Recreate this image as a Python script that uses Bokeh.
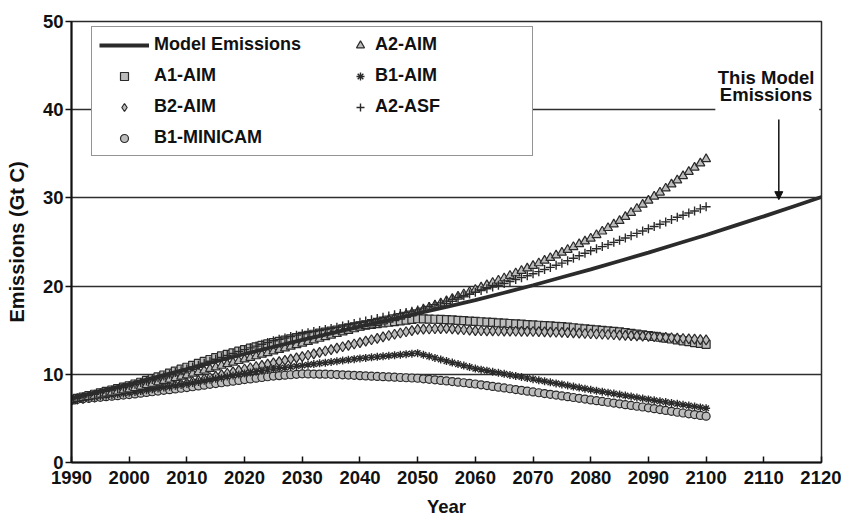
from bokeh.plotting import figure
from bokeh.models import (Range1d, Legend, LegendItem, Label, Arrow, NormalHead,
                          BoxAnnotation, FixedTicker)
from bokeh.embed import file_html
from bokeh.resources import INLINE

# ---------------- data ----------------
years = list(range(1990, 2101))
x_ticks = list(range(1990, 2121, 10))
y_ticks = [0, 10, 20, 30, 40, 50]

model_years = list(range(1990, 2121, 5))
model_emissions = [7.30, 8.10, 8.90, 9.75, 10.60, 11.45, 12.30, 13.10, 13.90, 14.65,
                   15.40, 16.15, 16.90, 17.65, 18.40, 19.25, 20.10, 21.00, 21.90,
                   22.85, 23.80, 24.80, 25.80, 26.85, 27.90, 29.00, 30.10]

a1_aim = [7.10, 7.26, 7.42, 7.58, 7.74, 7.90, 8.06, 8.22, 8.38, 8.54,
          8.70, 8.90, 9.10, 9.30, 9.50, 9.70, 9.92, 10.14, 10.36, 10.58,
          10.80, 11.02, 11.24, 11.46, 11.68, 11.90, 12.08, 12.26, 12.44, 12.62,
          12.80, 12.96, 13.12, 13.28, 13.44, 13.60, 13.74, 13.88, 14.02, 14.16,
          14.30, 14.42, 14.54, 14.66, 14.78, 14.90, 15.02, 15.14, 15.26, 15.38,
          15.50, 15.58, 15.66, 15.74, 15.82, 15.90, 15.98, 16.06, 16.14, 16.22,
          16.30, 16.28, 16.26, 16.24, 16.22, 16.20, 16.16, 16.12, 16.08, 16.04,
          16.00, 15.96, 15.92, 15.88, 15.84, 15.80, 15.76, 15.72, 15.68, 15.64,
          15.60, 15.56, 15.52, 15.48, 15.44, 15.40, 15.34, 15.28, 15.22, 15.16,
          15.10, 15.04, 14.98, 14.92, 14.86, 14.80, 14.72, 14.64, 14.56, 14.48,
          14.40, 14.30, 14.20, 14.10, 14.00, 13.90, 13.80, 13.70, 13.60, 13.50,
          13.40]

a2_aim = [7.10, 7.22, 7.34, 7.46, 7.58, 7.70, 7.82, 7.94, 8.06, 8.18,
          8.30, 8.46, 8.62, 8.78, 8.94, 9.10, 9.26, 9.42, 9.58, 9.74,
          9.90, 10.08, 10.26, 10.44, 10.62, 10.80, 10.98, 11.16, 11.34, 11.52,
          11.70, 11.88, 12.06, 12.24, 12.42, 12.60, 12.78, 12.96, 13.14, 13.32,
          13.50, 13.68, 13.86, 14.04, 14.22, 14.40, 14.58, 14.76, 14.94, 15.12,
          15.30, 15.48, 15.66, 15.84, 16.02, 16.20, 16.38, 16.56, 16.74, 16.92,
          17.10, 17.34, 17.58, 17.82, 18.06, 18.30, 18.56, 18.82, 19.08, 19.34,
          19.60, 19.86, 20.12, 20.38, 20.64, 20.90, 21.18, 21.46, 21.74, 22.02,
          22.30, 22.60, 22.90, 23.20, 23.50, 23.80, 24.12, 24.44, 24.76, 25.08,
          25.40, 25.80, 26.20, 26.60, 27.00, 27.40, 27.86, 28.32, 28.78, 29.24,
          29.70, 30.16, 30.62, 31.08, 31.54, 32.00, 32.48, 32.96, 33.44, 33.92,
          34.40]

a2_asf = [7.10, 7.26, 7.42, 7.58, 7.74, 7.90, 8.06, 8.22, 8.38, 8.54,
          8.70, 8.88, 9.06, 9.24, 9.42, 9.60, 9.80, 10.00, 10.20, 10.40,
          10.60, 10.82, 11.04, 11.26, 11.48, 11.70, 11.92, 12.14, 12.36, 12.58,
          12.80, 13.00, 13.20, 13.40, 13.60, 13.80, 13.96, 14.12, 14.28, 14.44,
          14.60, 14.72, 14.84, 14.96, 15.08, 15.20, 15.34, 15.48, 15.62, 15.76,
          15.90, 16.04, 16.18, 16.32, 16.46, 16.60, 16.74, 16.88, 17.02, 17.16,
          17.30, 17.50, 17.70, 17.90, 18.10, 18.30, 18.50, 18.70, 18.90, 19.10,
          19.30, 19.50, 19.70, 19.90, 20.10, 20.30, 20.52, 20.74, 20.96, 21.18,
          21.40, 21.64, 21.88, 22.12, 22.36, 22.60, 22.88, 23.16, 23.44, 23.72,
          24.00, 24.24, 24.48, 24.72, 24.96, 25.20, 25.46, 25.72, 25.98, 26.24,
          26.50, 26.76, 27.02, 27.28, 27.54, 27.80, 28.04, 28.28, 28.52, 28.76,
          29.00]

b2_aim = [7.10, 7.18, 7.26, 7.34, 7.42, 7.50, 7.58, 7.66, 7.74, 7.82,
          7.90, 8.00, 8.10, 8.20, 8.30, 8.40, 8.52, 8.64, 8.76, 8.88,
          9.00, 9.16, 9.32, 9.48, 9.64, 9.80, 9.96, 10.12, 10.28, 10.44,
          10.60, 10.74, 10.88, 11.02, 11.16, 11.30, 11.44, 11.58, 11.72, 11.86,
          12.00, 12.16, 12.32, 12.48, 12.64, 12.80, 12.96, 13.12, 13.28, 13.44,
          13.60, 13.76, 13.92, 14.08, 14.24, 14.40, 14.54, 14.68, 14.82, 14.96,
          15.10, 15.12, 15.14, 15.16, 15.18, 15.20, 15.15, 15.10, 15.05, 15.00,
          14.95, 14.94, 14.93, 14.92, 14.91, 14.90, 14.89, 14.88, 14.87, 14.86,
          14.85, 14.83, 14.81, 14.79, 14.77, 14.75, 14.72, 14.69, 14.66, 14.63,
          14.60, 14.57, 14.54, 14.51, 14.48, 14.45, 14.42, 14.39, 14.36, 14.33,
          14.30, 14.26, 14.22, 14.18, 14.14, 14.10, 14.06, 14.02, 13.98, 13.94,
          13.90]

b1_aim = [7.10, 7.18, 7.26, 7.34, 7.42, 7.50, 7.58, 7.66, 7.74, 7.82,
          7.90, 8.00, 8.10, 8.20, 8.30, 8.40, 8.50, 8.60, 8.70, 8.80,
          8.90, 9.02, 9.14, 9.26, 9.38, 9.50, 9.62, 9.74, 9.86, 9.98,
          10.10, 10.20, 10.30, 10.40, 10.50, 10.60, 10.68, 10.76, 10.84, 10.92,
          11.00, 11.08, 11.16, 11.24, 11.32, 11.40, 11.48, 11.56, 11.64, 11.72,
          11.80, 11.86, 11.92, 11.98, 12.04, 12.10, 12.16, 12.22, 12.28, 12.34,
          12.40, 12.22, 12.04, 11.86, 11.68, 11.50, 11.33, 11.16, 10.99, 10.82,
          10.65, 10.53, 10.41, 10.29, 10.17, 10.05, 9.93, 9.81, 9.69, 9.57,
          9.45, 9.33, 9.21, 9.09, 8.97, 8.85, 8.73, 8.61, 8.49, 8.37,
          8.25, 8.14, 8.03, 7.92, 7.81, 7.70, 7.59, 7.48, 7.37, 7.26,
          7.15, 7.05, 6.95, 6.85, 6.75, 6.65, 6.55, 6.45, 6.35, 6.25,
          6.15]

b1_minicam = [7.10, 7.16, 7.22, 7.28, 7.34, 7.40, 7.46, 7.52, 7.58, 7.64,
              7.70, 7.78, 7.86, 7.94, 8.02, 8.10, 8.18, 8.26, 8.34, 8.42,
              8.50, 8.59, 8.68, 8.77, 8.86, 8.95, 9.04, 9.13, 9.22, 9.31,
              9.40, 9.48, 9.56, 9.64, 9.72, 9.80, 9.85, 9.90, 9.95, 10.00,
              10.05, 10.04, 10.03, 10.02, 10.01, 10.00, 9.97, 9.94, 9.91, 9.88,
              9.85, 9.82, 9.79, 9.76, 9.73, 9.70, 9.67, 9.64, 9.61, 9.58,
              9.55, 9.49, 9.43, 9.37, 9.31, 9.25, 9.18, 9.11, 9.04, 8.97,
              8.90, 8.81, 8.72, 8.63, 8.54, 8.45, 8.36, 8.27, 8.18, 8.09,
              8.00, 7.91, 7.82, 7.73, 7.64, 7.55, 7.46, 7.37, 7.28, 7.19,
              7.10, 7.01, 6.92, 6.83, 6.74, 6.65, 6.56, 6.47, 6.38, 6.29,
              6.20, 6.10, 6.00, 5.90, 5.80, 5.70, 5.61, 5.52, 5.43, 5.34,
              5.25]

# ---------------- figure ----------------
FONT = "Liberation Sans"
DARK = "#2a2a2a"
FILL = "#bcbcbc"

p = figure(frame_width=750, frame_height=441,
           min_border_left=71, min_border_top=21, min_border_right=20, min_border_bottom=50,
           x_range=Range1d(1990, 2120), y_range=Range1d(0, 50),
           output_backend="svg", toolbar_location=None)
p.background_fill_color = "white"
p.border_fill_color = "white"
p.outline_line_color = DARK
p.outline_line_width = 1.5

p.xgrid.visible = False
p.ygrid.ticker = FixedTicker(ticks=y_ticks)
p.ygrid.grid_line_color = "#2e2e2e"
p.ygrid.grid_line_width = 1.5

p.xaxis.ticker = FixedTicker(ticks=x_ticks)
p.yaxis.ticker = FixedTicker(ticks=y_ticks)
for ax in (p.xaxis, p.yaxis):
    ax.axis_line_color = "#111111"
    ax.axis_line_width = 2
    ax.major_tick_line_color = "#111111"
    ax.major_tick_line_width = 1.5
    ax.minor_tick_line_color = None
    ax.major_label_text_font = FONT
    ax.major_label_text_font_style = "bold"
    ax.major_label_text_font_size = "18.5px"
    ax.major_label_text_color = "#111111"
    ax.axis_label_text_font = FONT
    ax.axis_label_text_font_style = "bold"
    ax.axis_label_text_color = "#111111"

p.xaxis.major_tick_in = 6
p.xaxis.major_tick_out = 0
p.xaxis.major_label_standoff = 8
p.xaxis.axis_label = "Year"
p.xaxis.axis_label_text_font_size = "18.5px"
p.xaxis.axis_label_standoff = 9

p.yaxis.major_tick_in = 0
p.yaxis.major_tick_out = 6
p.yaxis.major_label_standoff = 2
p.yaxis.axis_label = "Emissions (Gt C)"
p.yaxis.axis_label_text_font_size = "20px"
p.yaxis.axis_label_standoff = 12

# ---------------- series ----------------
r_a1 = p.scatter(years, a1_aim, marker="square", size=8, fill_color=FILL,
                 line_color=DARK, line_width=1.2)
r_b2 = p.scatter(years, b2_aim, marker="diamond", size=10, fill_color=FILL,
                 line_color=DARK, line_width=1.2)
r_b1m = p.scatter(years, b1_minicam, marker="circle", size=8, fill_color=FILL,
                  line_color=DARK, line_width=1.2)
r_b1 = p.scatter(years, b1_aim, marker="asterisk", size=8, fill_color=None,
                 line_color=DARK, line_width=1.4)
r_a2 = p.scatter(years, a2_aim, marker="triangle", size=9, fill_color=FILL,
                 line_color=DARK, line_width=1.2)
r_asf = p.scatter(years, a2_asf, marker="cross", size=9, fill_color=None,
                  line_color=DARK, line_width=1.4)
r_model = p.line(model_years, model_emissions, line_color="#2b2b2b", line_width=3.8)

# ---------------- legend ----------------
def make_legend(items, loc, label_width, glyph_width):
    lg = Legend(items=items, location=loc, orientation="vertical",
                label_text_font=FONT, label_text_font_style="bold",
                label_text_font_size="18px", label_text_color="#111111",
                glyph_width=glyph_width, glyph_height=20, label_height=20,
                label_width=label_width, label_standoff=5,
                spacing=10, padding=7, margin=0)
    return lg

leg1 = make_legend([LegendItem(label="Model Emissions", renderers=[r_model]),
                    LegendItem(label="A1-AIM", renderers=[r_a1]),
                    LegendItem(label="B2-AIM", renderers=[r_b2]),
                    LegendItem(label="B1-MINICAM", renderers=[r_b1m])],
                   (20, 306), 371, 50)
leg1.border_line_color = DARK
leg1.border_line_width = 1.5
leg1.background_fill_color = "white"
leg1.background_fill_alpha = 1.0

leg2 = make_legend([LegendItem(label="A2-AIM", renderers=[r_a2]),
                    LegendItem(label="B1-AIM", renderers=[r_b1]),
                    LegendItem(label="A2-ASF", renderers=[r_asf])],
                   (279, 345), 60, 20)
leg2.border_line_color = None
leg2.background_fill_alpha = 0.0

p.add_layout(leg1, "center")
p.add_layout(leg2, "center")

# ---------------- annotation ----------------
p.add_layout(BoxAnnotation(left=2101.6, right=2119.6, bottom=39.4, top=45.6,
                           fill_color="white", fill_alpha=1.0, line_alpha=0))
for txt, yv in (("This Model", 43.65), ("Emissions", 41.7)):
    p.add_layout(Label(x=2110.4, y=yv, text=txt, text_align="center",
                       text_baseline="middle", text_font=FONT,
                       text_font_style="bold", text_font_size="18.5px",
                       text_color="#111111"))
p.add_layout(Arrow(end=NormalHead(size=8, fill_color="#111111", line_color="#111111"),
                   x_start=2112.6, y_start=38.9, x_end=2112.6, y_end=29.8,
                   line_color="#111111", line_width=1.5))

open("out.html", "w").write(file_html(p, INLINE))
